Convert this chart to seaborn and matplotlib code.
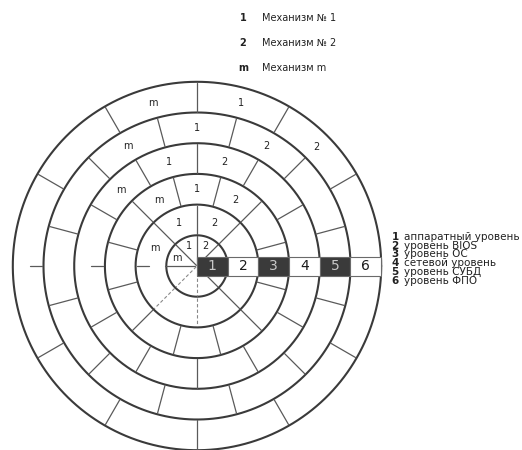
import numpy as np
import pandas as pd
import matplotlib
matplotlib.use('Agg')
import matplotlib.pyplot as plt
import seaborn as sns

# levels shown along the horizontal bar (innermost ring = level 1)
levels = ['1', '2', '3', '4', '5', '6']
level_names = ['аппаратный уровень', 'уровень BIOS', 'уровень ОС',
               'сетевой уровень', 'уровень СУБД', 'уровень ФПО']
level_dark = [True, False, True, False, True, False]

# mechanisms (legend on top)
mech_keys = ['1', '2', 'm']
mech_names = ['Механизм № 1', 'Механизм № 2', 'Механизм m']

# sector layout of each ring: step between dividers and start offset (deg)
ring_step = [45, 45, 30, 30, 30, 30]
ring_offset = [0, 0, 15, 0, 15, 0]
# angle (deg) of the sector holding each mechanism label, ring by ring
label_angle = {
    '1': [112.5, 112.5, 90, 105, 90, 75],
    '2': [67.5, 67.5, 60, 75, 60, 45],
    'm': [157.5, 157.5, 120, 135, 120, 105],
}

sns.set_style('white')
plt.rcParams['font.family'] = ['DejaVu Sans']

W, H = 522, 450
CX, CY, R = 197, 266, 30.7   # centre in pixels, ring width in pixels


def px(x, y):
    return (x - CX) / R, (CY - y) / R


fig = plt.figure(figsize=(W / 100, H / 100), dpi=100)
ax = fig.add_axes([0, 0, 1, 1])
ax.set_xlim(-CX / R, (W - CX) / R)
ax.set_ylim(-(H - CY) / R, CY / R)
ax.set_aspect('equal')
ax.axis('off')

n = len(levels)
t = np.linspace(0, 2 * np.pi, 400)

# rings
circ = pd.concat([pd.DataFrame({'x': (k + 1) * np.cos(t), 'y': (k + 1) * np.sin(t), 'ring': k})
                  for k in range(n)])
sns.lineplot(data=circ, x='x', y='y', units='ring', estimator=None, sort=False,
             color='#3a3a3a', lw=1.5, ax=ax, legend=False)

# sector dividers
solid, dashed = [], []
seg = 0
for k in range(n):
    for a in np.arange(ring_offset[k], 360, ring_step[k]):
        if a % 360 == 0:
            continue
        r0, r1 = k + 0.03, k + 0.97
        if a == 180:
            if k == 0:
                r0, r1 = 0.05, 1.05
            elif k == 1:
                r0, r1 = 1.55, 1.95
            else:
                r0, r1 = k + 0.05, k + 0.45
        rr = np.array([r0, r1])
        d = pd.DataFrame({'x': rr * np.cos(np.radians(a)), 'y': rr * np.sin(np.radians(a)), 'seg': seg})
        seg += 1
        if k < 2 and a in (225, 270):
            dashed.append(d)
        else:
            solid.append(d)
sns.lineplot(data=pd.concat(solid), x='x', y='y', units='seg', estimator=None, sort=False,
             color='#5a5a5a', lw=0.9, ax=ax, legend=False)
sns.lineplot(data=pd.concat(dashed), x='x', y='y', units='seg', estimator=None, sort=False,
             color='#888888', lw=0.8, ls=(0, (3, 2)), ax=ax, legend=False)

# mechanism labels inside sectors
for key in mech_keys:
    for k, a in enumerate(label_angle[key]):
        r = 0.72 if k == 0 else k + 0.5
        ax.text(r * np.cos(np.radians(a)), r * np.sin(np.radians(a)), key,
                ha='center', va='center', fontsize=7, color='#222222')

# level bar
hb = 9.5 / R
for k, (lab, dark) in enumerate(zip(levels, level_dark)):
    ax.add_patch(plt.Rectangle((k, -hb), 1, 2 * hb, facecolor='#3a3a3a' if dark else 'white',
                               edgecolor='#6a6a6a', lw=0.8, zorder=3))
    ax.text(k + 0.5, 0, lab, ha='center', va='center', fontsize=10, zorder=4,
            color='#c8c8c8' if dark else '#1a1a1a')

# top legend
for i, (key, name) in enumerate(zip(mech_keys, mech_names)):
    y = 18 + i * 25
    ax.text(*px(243, y), key, ha='center', va='center', fontsize=7, fontweight='bold', color='#222222')
    ax.text(*px(262, y), name, ha='left', va='center', fontsize=7, color='#222222')

# right legend
for i, (lab, name) in enumerate(zip(levels, level_names)):
    y = 237 + i * 8.7
    ax.text(*px(395, y), lab, ha='center', va='center', fontsize=7.5, fontweight='bold', color='#222222')
    ax.text(*px(404, y), name, ha='left', va='center', fontsize=7.5, color='#222222')

fig.savefig('out.png', dpi=100)
